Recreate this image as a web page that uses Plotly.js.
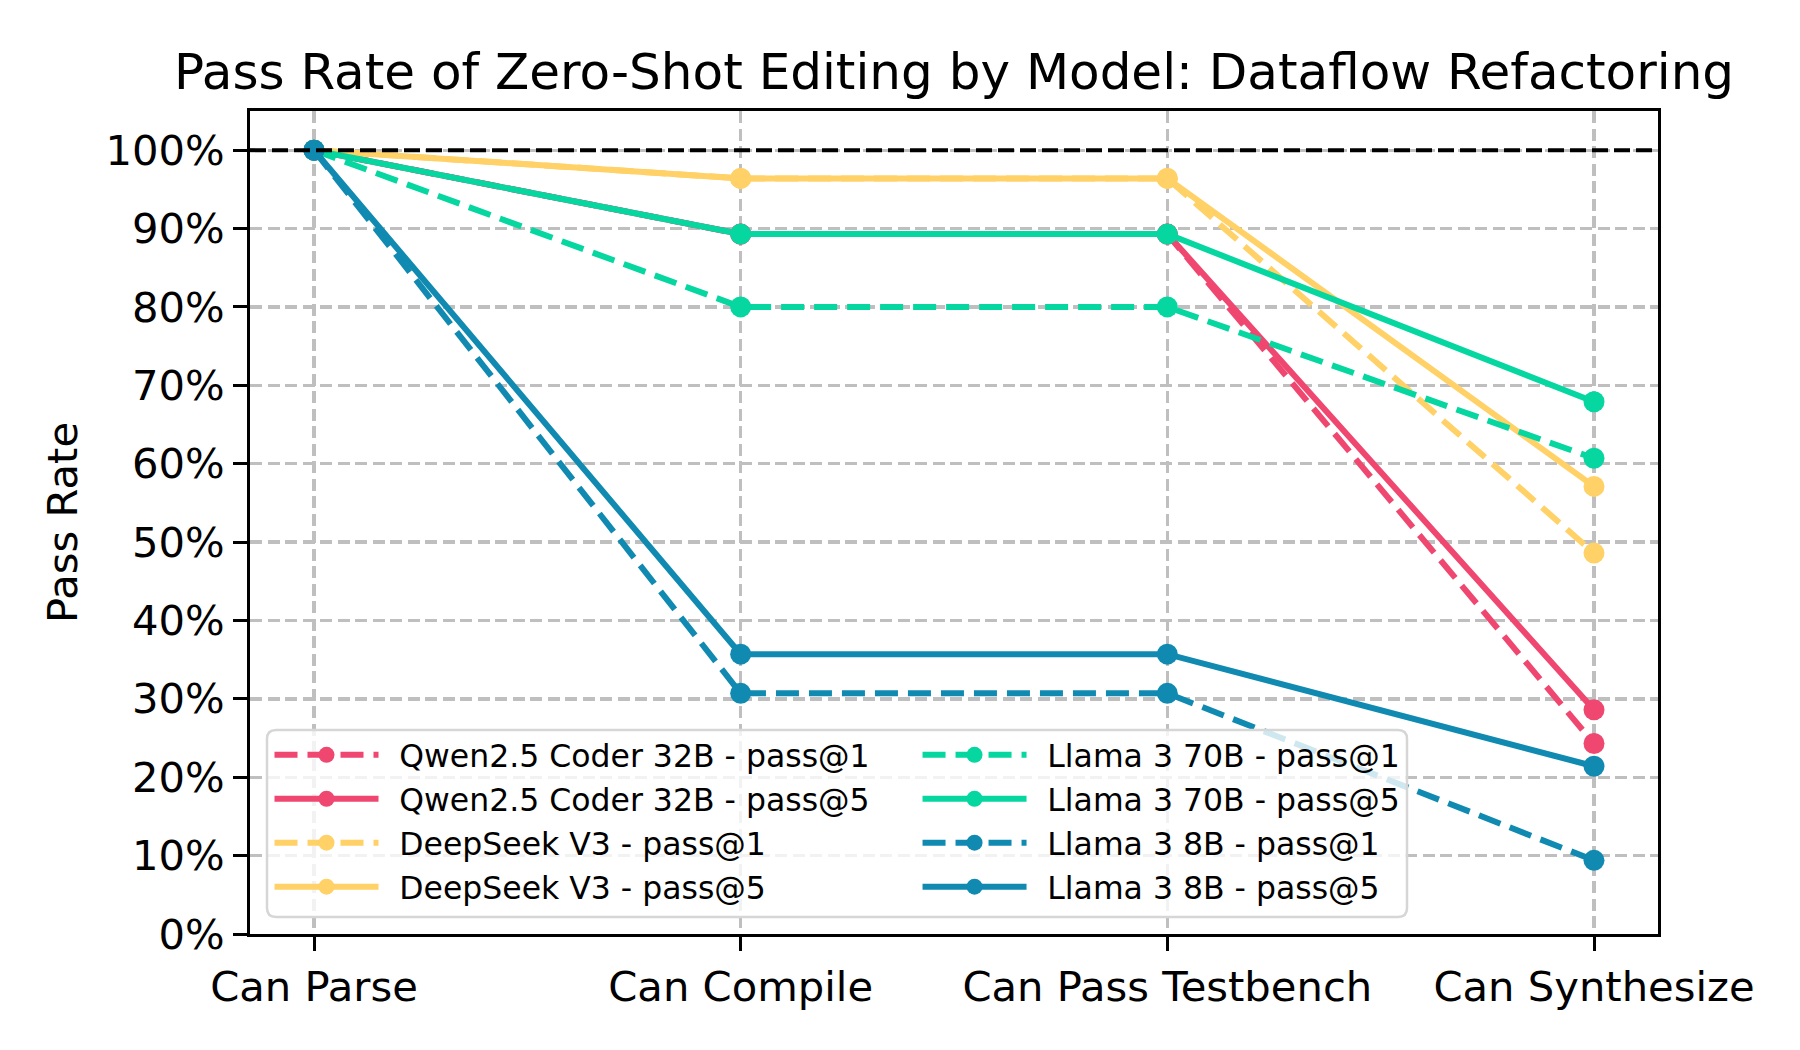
<!DOCTYPE html>
<html>
<head>
<meta charset="utf-8">
<script src="https://cdn.plot.ly/plotly-3.0.1.min.js"></script>
<style>html,body{margin:0;padding:0;background:#fff;}#chart{width:1800px;height:1050px;}</style>
</head>
<body>
<div id="chart"></div>
<script>
const categories = ["Can Parse", "Can Compile", "Can Pass Testbench", "Can Synthesize"];
const qwenPass1 = [100, 89.3, 89.3, 24.3];
const qwenPass5 = [100, 89.3, 89.3, 28.6];
const deepseekPass1 = [100, 96.4, 96.4, 48.6];
const deepseekPass5 = [100, 96.4, 96.4, 57.1];
const llama70Pass1 = [100, 80.0, 80.0, 60.7];
const llama70Pass5 = [100, 89.3, 89.3, 67.9];
const llama8Pass1 = [100, 30.7, 30.7, 9.4];
const llama8Pass5 = [100, 35.7, 35.7, 21.4];
const yTickValues = [0, 10, 20, 30, 40, 50, 60, 70, 80, 90, 100];
const yTickLabels = ["0%", "10%", "20%", "30%", "40%", "50%", "60%", "70%", "80%", "90%", "100%"];
const referenceLevel = 100;

const COLORS = {qwen: "#EF476F", deepseek: "#FFD166", llama70: "#06D6A0", llama8: "#118AB2"};
const FONT = "DejaVu Sans, Liberation Sans, sans-serif";
const DASH = "23px,10px";
const GRID_DASH = "12px,5.5px";
const LW = 6, MS = 21;
const GAP = "\u2002"; // spacing between legend handle and label

function series(name, y, color, dashed, legendId, rank) {
  return {
    type: "scatter", mode: "lines+markers", name: GAP + name,
    x: categories, y: y,
    line: {color: color, width: LW, dash: dashed ? DASH : "solid"},
    marker: {color: color, size: MS},
    legend: legendId, legendrank: rank,
    cliponaxis: false
  };
}

const traces = [
  series("Qwen2.5 Coder 32B - pass@1", qwenPass1, COLORS.qwen, true, "legend", 1),
  series("Qwen2.5 Coder 32B - pass@5", qwenPass5, COLORS.qwen, false, "legend", 2),
  series("DeepSeek V3 - pass@1", deepseekPass1, COLORS.deepseek, true, "legend", 3),
  series("DeepSeek V3 - pass@5", deepseekPass5, COLORS.deepseek, false, "legend", 4),
  series("Llama 3 70B - pass@1", llama70Pass1, COLORS.llama70, true, "legend2", 1),
  series("Llama 3 70B - pass@5", llama70Pass5, COLORS.llama70, false, "legend2", 2),
  series("Llama 3 8B - pass@1", llama8Pass1, COLORS.llama8, true, "legend2", 3),
  series("Llama 3 8B - pass@5", llama8Pass5, COLORS.llama8, false, "legend2", 4)
];

// legend frame (rounded rectangle) in paper coords
const W = 1408, H = 823;
const bx0 = 17 / W, bx1 = 1157 / W, by0 = 17 / H, by1 = 204 / H;
const rx = 9 / W, ry = 9 / H;
const boxPath = `M${bx0 + rx},${by0} L${bx1 - rx},${by0} Q${bx1},${by0} ${bx1},${by0 + ry} L${bx1},${by1 - ry} Q${bx1},${by1} ${bx1 - rx},${by1} L${bx0 + rx},${by1} Q${bx0},${by1} ${bx0},${by1 - ry} L${bx0},${by0 + ry} Q${bx0},${by0} ${bx0 + rx},${by0} Z`;

const legendCommon = {
  orientation: "v", xanchor: "left", yanchor: "top",
  bgcolor: "rgba(0,0,0,0)", borderwidth: 0,
  font: {family: FONT, size: 31.5, color: "#000"},
  itemwidth: 104, traceorder: "normal", itemclick: false, itemdoubleclick: false
};

const layout = {
  width: 1800, height: 1050,
  margin: {l: 250, r: 142, t: 111, b: 116},
  paper_bgcolor: "#fff", plot_bgcolor: "#fff",
  font: {family: FONT, color: "#000"},
  title: {text: "Pass Rate of Zero-Shot Editing by Model: Dataflow Refactoring",
          font: {family: FONT, size: 50, color: "#000"}, x: 0.53, xanchor: "center", y: 0.932, yanchor: "middle"},
  xaxis: {
    type: "category", range: [-0.15, 3.15],
    showline: true, linecolor: "#000", linewidth: 3, mirror: true,
    ticks: "outside", ticklen: 14, tickwidth: 3, tickcolor: "#000",
    tickfont: {family: FONT, size: 41.7, color: "#000"},
    showgrid: true, gridcolor: "#bfbfbf", gridwidth: 3.3, griddash: GRID_DASH,
    zeroline: false, fixedrange: true
  },
  yaxis: {
    range: [0, 105], tickvals: yTickValues, ticktext: yTickLabels,
    showline: true, linecolor: "#000", linewidth: 3, mirror: true,
    ticks: "outside", ticklen: 14, tickwidth: 3, tickcolor: "#000",
    tickfont: {family: FONT, size: 41.7, color: "#000"},
    showgrid: true, gridcolor: "#bfbfbf", gridwidth: 3.3, griddash: GRID_DASH,
    zeroline: false, fixedrange: true,
    title: {text: "Pass Rate", font: {family: FONT, size: 41.7, color: "#000"}, standoff: 15}
  },
  shapes: [
    {type: "line", xref: "paper", x0: 0, x1: 1, yref: "y", y0: referenceLevel, y1: referenceLevel,
     line: {color: "#000", width: 4, dash: "16px,6px"}, layer: "above"},
    {type: "path", xref: "paper", yref: "paper", path: boxPath,
     fillcolor: "rgba(255,255,255,0.8)", line: {color: "#d6d6d6", width: 2.5}, layer: "above"}
  ],
  legend: Object.assign({}, legendCommon, {x: 0.01385, y: 0.2505}),
  legend2: Object.assign({}, legendCommon, {x: 0.4741, y: 0.2505}),
  showlegend: true
};

Plotly.newPlot("chart", traces, layout, {displayModeBar: false, staticPlot: true});
</script>
</body>
</html>
